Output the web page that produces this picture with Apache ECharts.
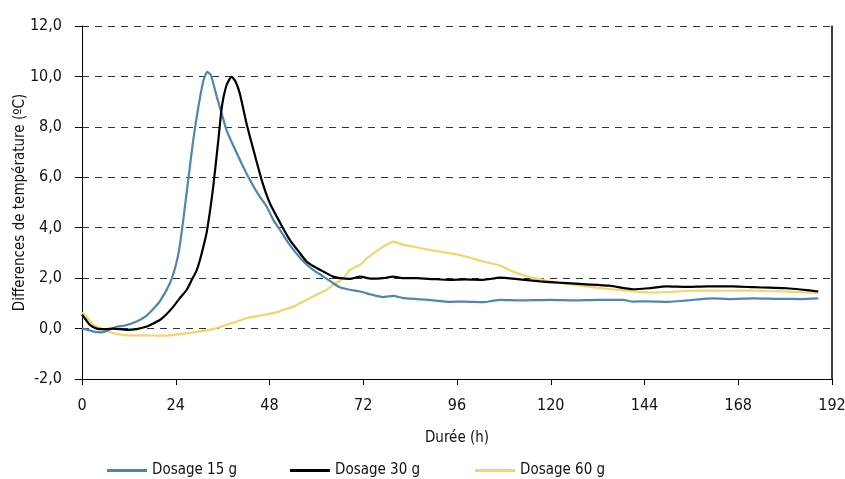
<!DOCTYPE html>
<html><head><meta charset="utf-8">
<script src="https://cdn.jsdelivr.net/npm/echarts@6/dist/echarts.min.js"></script>
<style>html,body{margin:0;padding:0;background:#fff}#c{width:845px;height:479px}</style>
</head><body><div id="c"></div>
<script>
const xTicks = [0, 24, 48, 72, 96, 120, 144, 168, 192];
const yTicks = [-2, 0, 2, 4, 6, 8, 10, 12];
const seriesNames = ['Dosage 15 g', 'Dosage 30 g', 'Dosage 60 g'];

const hours15 = [0, 1.5, 3, 5, 7, 9, 11, 14, 16, 18, 20, 22.5, 24, 25, 26, 27.2, 28.5, 29.8, 31.1, 32.1, 33, 34.5, 36, 37, 38.3, 39.6, 41, 43, 45, 47.3, 49, 50.7, 52.4, 54.5, 56.7, 59, 61.8, 64.3, 66, 68.6, 71.2, 74, 77.1, 79.7, 82, 85.7, 90, 94.2, 98, 102.7, 105, 107, 112, 119.8, 126, 132, 138.5, 141, 145, 150, 155, 161.5, 166, 172, 178, 184, 188.5];
const temp15 = [0.0, -0.05, -0.12, -0.15, -0.05, 0.08, 0.12, 0.28, 0.45, 0.74, 1.1, 1.8, 2.5, 3.25, 4.4, 5.9, 7.5, 8.8, 9.85, 10.18, 10.05, 9.2, 8.4, 7.87, 7.4, 6.96, 6.5, 5.89, 5.35, 4.83, 4.3, 3.91, 3.5, 3.05, 2.66, 2.35, 2.06, 1.8, 1.64, 1.54, 1.47, 1.35, 1.25, 1.3, 1.22, 1.17, 1.12, 1.06, 1.07, 1.05, 1.1, 1.14, 1.12, 1.14, 1.12, 1.14, 1.14, 1.07, 1.08, 1.06, 1.12, 1.2, 1.17, 1.2, 1.18, 1.17, 1.2];

const hours30 = [0, 1, 2, 3.8, 6, 8, 11.4, 14, 16.6, 18, 20, 21.5, 23.4, 25, 26.8, 28, 29.4, 30.5, 31.9, 32.8, 33.6, 34.9, 35.8, 37, 38.3, 39.3, 40.4, 42.1, 43.9, 46, 48.1, 50.7, 53.2, 55.5, 57.5, 59.5, 61.8, 64.3, 66, 68.6, 71.2, 74, 77.1, 79.7, 82, 85.7, 90, 94.2, 98, 102.7, 107, 112, 117.3, 122, 128.4, 135, 141.1, 145, 149.7, 155, 160, 166.7, 172, 176, 180.4, 184, 188.5];
const temp30 = [0.55, 0.35, 0.15, 0.0, -0.02, 0.0, -0.05, -0.02, 0.08, 0.18, 0.35, 0.55, 0.87, 1.2, 1.54, 1.9, 2.33, 2.9, 3.8, 4.7, 5.63, 7.47, 8.79, 9.65, 9.98, 9.8, 9.32, 8.14, 7.08, 5.89, 4.97, 4.2, 3.52, 3.05, 2.66, 2.45, 2.26, 2.06, 2.0, 1.97, 2.06, 1.98, 2.0, 2.06, 2.0, 2.0, 1.96, 1.93, 1.95, 1.93, 2.02, 1.95, 1.87, 1.82, 1.76, 1.7, 1.56, 1.6, 1.67, 1.65, 1.67, 1.67, 1.64, 1.62, 1.6, 1.55, 1.47];

const hours60 = [0, 1.5, 2.9, 4, 5.5, 8, 12.3, 16, 20, 23, 26, 30.2, 33.5, 37, 40, 42.2, 45, 49, 51.5, 54.1, 56, 58.4, 60.5, 62.6, 64.3, 66.9, 68.6, 71.2, 72.9, 75, 77.1, 79.7, 82.3, 84.8, 87, 90, 94.2, 98.5, 102.7, 107, 109, 111.3, 113, 115.5, 117.5, 119.8, 124, 128.4, 133, 137, 141, 145.5, 150, 158.3, 165, 171, 175, 179.6, 184, 188.5];
const temp60 = [0.65, 0.4, 0.15, 0.08, -0.05, -0.18, -0.27, -0.27, -0.28, -0.26, -0.2, -0.11, -0.02, 0.15, 0.3, 0.42, 0.5, 0.61, 0.74, 0.87, 1.02, 1.21, 1.38, 1.54, 1.73, 2.0, 2.33, 2.53, 2.79, 3.02, 3.25, 3.45, 3.32, 3.25, 3.18, 3.09, 2.99, 2.85, 2.66, 2.5, 2.35, 2.2, 2.12, 2.0, 1.95, 1.87, 1.78, 1.69, 1.6, 1.54, 1.48, 1.43, 1.45, 1.51, 1.5, 1.51, 1.49, 1.47, 1.45, 1.4];

const colors = ['#4f86b1', '#000000', '#f6d46c'];
const FONT = "'DejaVu Sans Condensed', 'Liberation Sans', sans-serif";
const fmt = v => v.toFixed(1).replace('.', ',');
const zip = (xs, ys) => xs.map((x, i) => [x, ys[i]]);

const chart = echarts.init(document.getElementById('c'), null, {renderer: 'canvas'});
const legendLefts = [102, 285, 470];
chart.setOption({
  animation: false,
  backgroundColor: '#fff',
  grid: {left: 82, right: 13, top: 26, bottom: 100, containLabel: false, outerBoundsMode: 'none'},
  legend: seriesNames.map((n, i) => ({
    data: [n], left: legendLefts[i], top: 458, itemWidth: 40, itemHeight: 3, itemGap: 8,
    icon: 'rect',
    textStyle: {fontFamily: FONT, fontSize: 15, color: '#111'}
  })),
  xAxis: {
    type: 'value', min: 0, max: 192, interval: 24,
    name: 'Durée (h)', nameLocation: 'middle', nameGap: 52, nameMoveOverlap: false,
    nameTextStyle: {fontFamily: FONT, fontSize: 15, color: '#111'},
    axisLine: {show: true, onZero: false, lineStyle: {color: '#000', width: 1}},
    axisTick: {show: true, length: 6, lineStyle: {color: '#000'}},
    axisLabel: {fontFamily: FONT, fontSize: 16, color: '#111', margin: 19},
    splitLine: {show: false}
  },
  yAxis: [{
    type: 'value', min: -2, max: 12, interval: 2,
    name: 'Differences de température (ºC)', nameLocation: 'middle', nameGap: 54, nameMoveOverlap: false,
    nameTextStyle: {fontFamily: FONT, fontSize: 15, color: '#111'},
    axisLine: {show: true, lineStyle: {color: '#000', width: 1}},
    axisTick: {show: true, length: 7, lineStyle: {color: '#000'}},
    axisLabel: {fontFamily: FONT, fontSize: 16, color: '#111', margin: 20, formatter: fmt},
    splitLine: {show: true, lineStyle: {color: '#333', type: [7, 6], width: 1}}
  }, {
    type: 'value', min: -2, max: 12, interval: 2, position: 'right',
    axisLine: {show: true, lineStyle: {color: '#000', width: 1.5}},
    axisTick: {show: false}, axisLabel: {show: false}, splitLine: {show: false}
  }],
  series: [
    {name: seriesNames[0], type: 'line', data: zip(hours15, temp15), smooth: 0.2, showSymbol: false, lineStyle: {width: 2.2, color: colors[0]}, itemStyle: {color: colors[0]}, z: 3},
    {name: seriesNames[1], type: 'line', data: zip(hours30, temp30), smooth: 0.2, showSymbol: false, lineStyle: {width: 2.2, color: colors[1]}, itemStyle: {color: colors[1]}, z: 4},
    {name: seriesNames[2], type: 'line', data: zip(hours60, temp60), smooth: 0.2, showSymbol: false, lineStyle: {width: 2.2, color: colors[2]}, itemStyle: {color: colors[2]}, z: 2}
  ]
});
</script></body></html>
